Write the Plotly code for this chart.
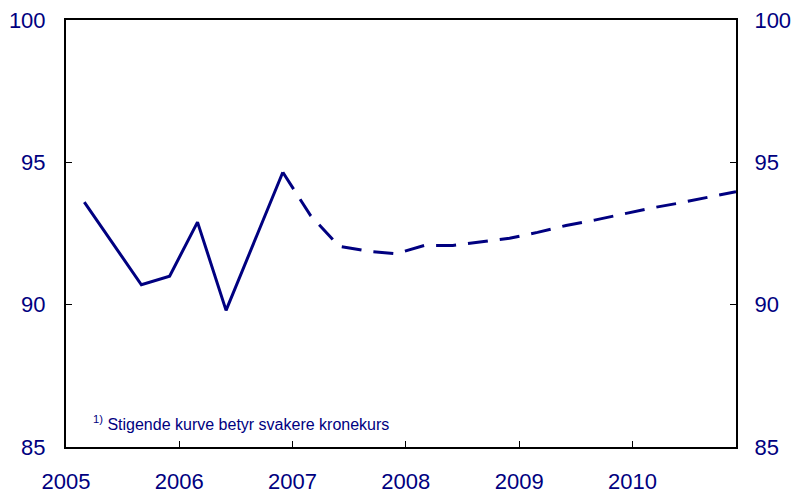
import plotly.graph_objects as go

hist_dates = ["2005-03-01", "2005-09-01", "2005-12-01", "2006-03-01", "2006-06-01", "2006-12-01"]
hist_values = [93.6, 90.7, 91.0, 92.9, 89.8, 94.65]

proj_dates = ["2006-12-01", "2007-03-01", "2007-06-01", "2007-09-01", "2007-12-01",
              "2008-03-01", "2008-06-01", "2008-09-01", "2008-12-01",
              "2009-03-01", "2009-06-01", "2009-09-01", "2009-12-01",
              "2010-03-01", "2010-06-01", "2010-09-01", "2010-12-01"]
proj_values = [94.65, 93.12, 92.05, 91.88, 91.79,
               92.08, 92.08, 92.21, 92.33,
               92.54, 92.78, 92.97, 93.19,
               93.39, 93.57, 93.78, 93.97]

year_ticks = ["2005-01-01", "2006-01-01", "2007-01-01", "2008-01-01", "2009-01-01", "2010-01-01"]
year_labels = ["2005", "2006", "2007", "2008", "2009", "2010"]
y_ticks = [85, 90, 95, 100]

NAVY = "#000080"
FONT = "Liberation Sans, Arial, sans-serif"

fig = go.Figure()
fig.add_trace(go.Scatter(x=hist_dates, y=hist_values, mode="lines",
                         line=dict(color=NAVY, width=3), showlegend=False))
fig.add_trace(go.Scatter(x=proj_dates, y=proj_values, mode="lines",
                         line=dict(color=NAVY, width=3, dash="20px,12px"), showlegend=False))
# invisible trace for right axis
fig.add_trace(go.Scatter(x=[proj_dates[0]], y=[proj_values[0]], yaxis="y2", mode="lines",
                         line=dict(color="rgba(0,0,0,0)"), showlegend=False, hoverinfo="skip"))

fig.update_layout(
    width=796, height=495,
    margin=dict(l=66, r=60, t=20, b=48),
    paper_bgcolor="white", plot_bgcolor="white",
    font=dict(family=FONT, color=NAVY, size=22),
    xaxis=dict(type="date", range=["2005-01-01", "2010-12-01"],
               tickvals=year_ticks, ticktext=year_labels, automargin=False,
               ticks="inside", ticklen=6, tickcolor="black", tickwidth=1,
               showline=True, linecolor="black", linewidth=2, mirror=True,
               showgrid=False, zeroline=False, ticklabeloverflow="allow",
               tickfont=dict(size=22, color=NAVY), ticklabelstandoff=14),
    yaxis=dict(range=[85, 100], tickvals=y_ticks, automargin=False,
               ticks="inside", ticklen=6, tickcolor="black", tickwidth=1,
               showline=True, linecolor="black", linewidth=2,
               showgrid=False, zeroline=False, ticklabeloverflow="allow",
               tickfont=dict(size=22, color=NAVY), ticklabelstandoff=14),
    yaxis2=dict(range=[85, 100], tickvals=y_ticks, overlaying="y", side="right",
                automargin=False,
                ticks="inside", ticklen=6, tickcolor="black", tickwidth=1,
                showline=True, linecolor="black", linewidth=2,
                showgrid=False, zeroline=False, ticklabeloverflow="allow",
                tickfont=dict(size=22, color=NAVY), ticklabelstandoff=12),
)

fig.add_annotation(xref="paper", yref="paper", x=0.037, y=0.057,
                   xanchor="left", yanchor="middle", showarrow=False,
                   text="<sup>1)</sup> Stigende kurve betyr svakere kronekurs",
                   font=dict(family=FONT, size=16, color=NAVY))

# remove the default page margin so the figure fills the window exactly
fig.write_html("out.html", config={"displayModeBar": False},
               post_script="document.body.style.margin='0';")
